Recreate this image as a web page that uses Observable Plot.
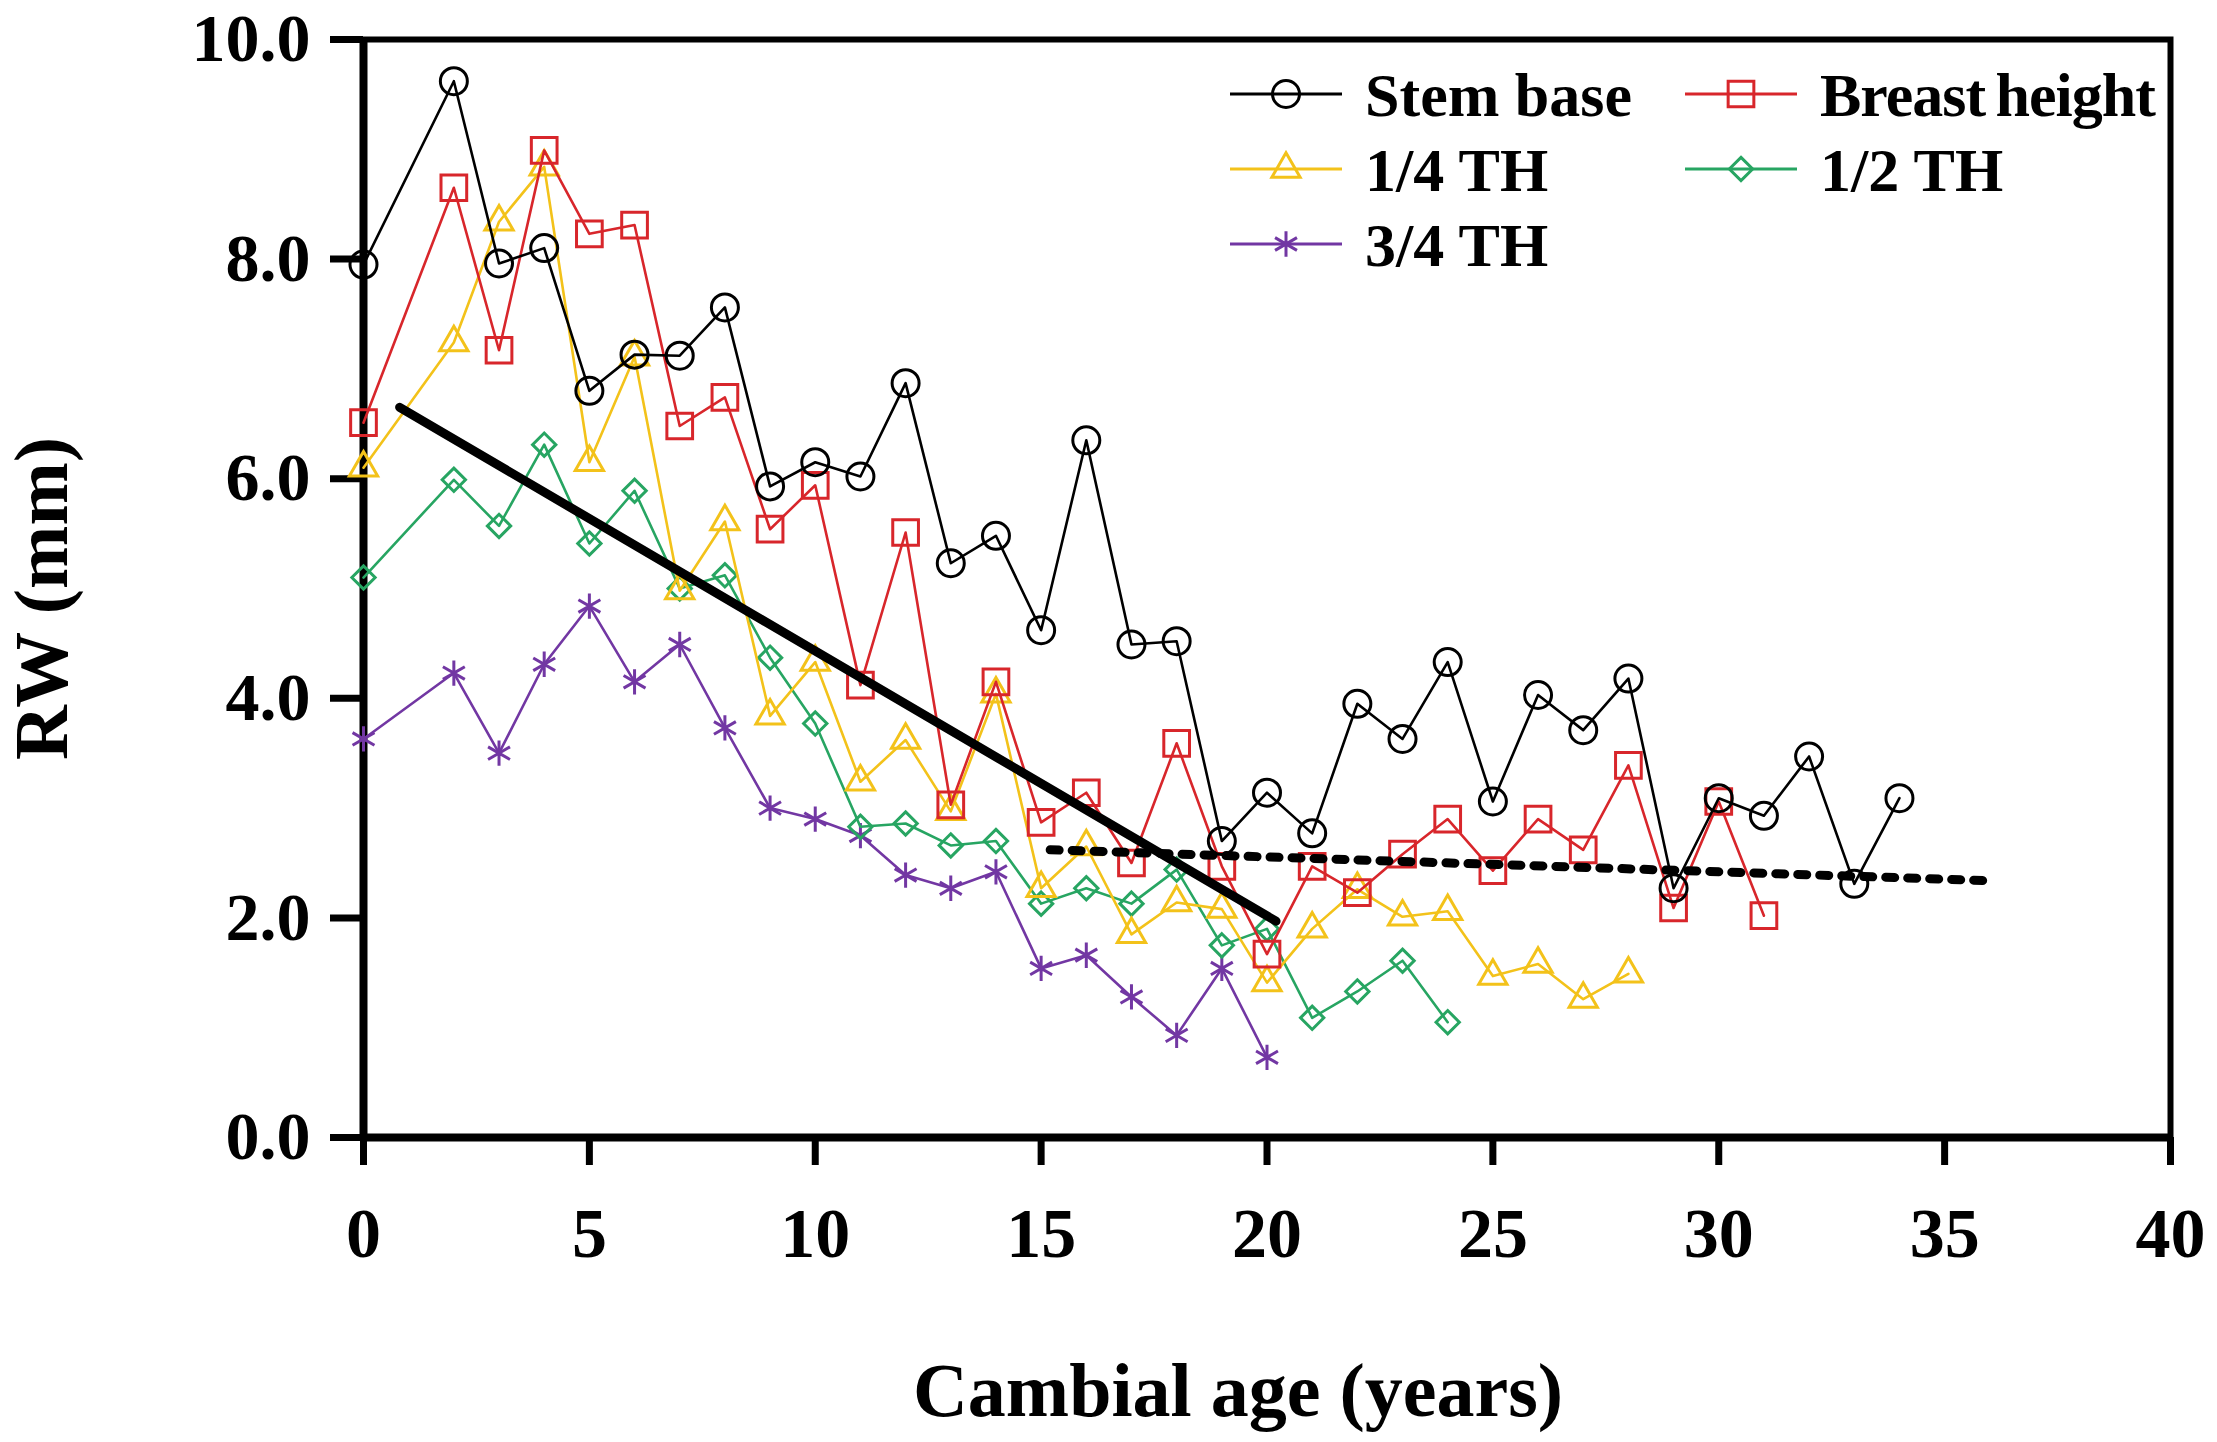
<!DOCTYPE html>
<html><head><meta charset="utf-8">
<script src="https://cdn.jsdelivr.net/npm/d3@7"></script>
<script src="https://cdn.jsdelivr.net/npm/@observablehq/plot@0.6"></script>
<style>html,body{margin:0;padding:0;background:#fff;overflow:hidden}</style>
</head><body><div id="chart"></div>
<script>
// Cambial age (years) at which ring widths were measured
const ages = [0,2,3,4,5,6,7,8,9,10,11,12,13,14,15,16,17,18,19,20,21,22,23,24,25,26,27,28,29,30,31,32,33,34];
// Ring width (mm) per sampling height
const stemBase     = [7.95,9.62,7.96,8.10,6.80,7.13,7.12,7.56,5.93,6.15,6.02,6.87,5.23,5.48,4.62,6.35,4.49,4.52,2.70,3.14,2.77,3.95,3.63,4.33,3.06,4.03,3.71,4.18,2.27,3.09,2.93,3.47,2.31,3.09];
const breastHeight = [6.51,8.65,7.17,8.99,8.23,8.31,6.48,6.74,5.54,5.94,4.12,5.51,3.03,4.15,2.87,3.14,2.50,3.59,2.47,1.67,2.47,2.23,2.58,2.90,2.43,2.90,2.62,3.39,2.09,3.06,2.02];
const quarterTH    = [6.10,7.24,8.34,8.84,6.15,7.11,4.98,5.61,3.84,4.33,3.24,3.62,2.97,4.04,2.27,2.65,1.85,2.14,2.08,1.41,1.90,2.26,2.01,2.06,1.47,1.58,1.26,1.49];
const halfTH       = [5.10,5.99,5.57,6.31,5.41,5.89,5.00,5.12,4.37,3.77,2.83,2.86,2.66,2.70,2.13,2.27,2.13,2.44,1.75,1.90,1.09,1.33,1.61,1.05];
const threeQTH     = [3.63,4.23,3.50,4.31,4.84,4.15,4.49,3.73,3.00,2.90,2.75,2.39,2.27,2.42,1.54,1.66,1.28,0.93,1.54,0.73];
// Trend lines
const trendSolidAge = [0.8, 20.2];
const trendSolidRW  = [6.65, 1.97];
const trendDotAge   = [15.2, 35.9];
const trendDotRW    = [2.62, 2.34];
// Series meta
const seriesNames   = ["Stem base","Breast height","1/4 TH","1/2 TH","3/4 TH"];
const seriesValues  = [stemBase, breastHeight, quarterTH, halfTH, threeQTH];
const seriesColors  = ["#000000","#d8262b","#f3c21a","#27a562","#7237a3"];
const seriesSymbols = ["circle","square","triangle","diamond2","asterisk"];
const seriesR       = [13.5, 14.5, 10.5, 10.5, 12];
const yTicks = [0,2,4,6,8,10];
const xTicks = [0,5,10,15,20,25,30,35,40];

const font = "'Liberation Serif','Times New Roman',serif";
const series = seriesNames.map((name, i) => ({
  name, color: seriesColors[i], symbol: seriesSymbols[i], r: seriesR[i],
  data: seriesValues[i].map((v, j) => ({age: ages[j], rw: v}))
}));
const trendSolid = trendSolidAge.map((a, i) => ({age: a, rw: trendSolidRW[i]}));
const trendDot = trendDotAge.map((a, i) => ({age: a, rw: trendDotRW[i]}));

const marks = [
  Plot.frame({strokeWidth: 6}),
  Plot.ruleX([0], {strokeWidth: 8}),
  Plot.ruleY([0], {strokeWidth: 8}),
  Plot.axisY(yTicks, {tickSize: 33, tickPadding: 20, strokeWidth: 7, tickFormat: d3.format(".1f"), fontSize: 68, fontWeight: "bold", label: null}),
  Plot.axisX(xTicks, {tickSize: 28, tickPadding: 42, strokeWidth: 7, tickFormat: d3.format("d"), fontSize: 70, fontWeight: "bold", label: null})
];
for (const s of [...series].reverse()) {
  marks.push(Plot.line(s.data, {x: "age", y: "rw", stroke: s.color, strokeWidth: 2.6}));
  marks.push(Plot.dot(s.data, {x: "age", y: "rw", stroke: s.color, symbol: () => s.symbol, r: s.r, strokeWidth: 3, fill: "none"}));
}
marks.push(Plot.line(trendSolid, {x: "age", y: "rw", stroke: "#000", strokeWidth: 9}));
marks.push(Plot.line(trendDot, {x: "age", y: "rw", stroke: "#000", strokeWidth: 9, strokeDasharray: "9 13"}));
marks.push(Plot.text(["Cambial age (years)"], {frameAnchor: "bottom", lineAnchor: "middle", textAnchor: "middle", dy: 254, dx: -29, fontSize: 76, fontWeight: "bold"}));
marks.push(Plot.text(["RW (mm)"], {frameAnchor: "left", lineAnchor: "middle", textAnchor: "middle", dx: -321, dy: 10, rotate: -90, fontSize: 76, fontWeight: "bold"}));

const chart = Plot.plot({
  width: 2217, height: 1442,
  marginLeft: 363, marginRight: 47, marginTop: 39, marginBottom: 305,
  x: {domain: [0, 40]},
  y: {domain: [0, 10]},
  symbol: {type: "identity"},
  style: {fontFamily: font, fontWeight: "bold", background: "#fff", color: "#000", overflow: "visible"},
  marks
});
document.getElementById("chart").appendChild(chart);

// Legend inside the plot frame (top right)
const svg = d3.select(chart);
const lg = svg.append("g").attr("font-family", font).attr("font-weight", "bold").attr("font-size", 62).attr("text-anchor", "start");
const legendPos = [
  {lx: 1230, ty: 94}, {lx: 1685, ty: 94},
  {lx: 1230, ty: 169}, {lx: 1685, ty: 169},
  {lx: 1230, ty: 244}
];
const symMap = {circle: d3.symbolCircle, square: d3.symbolSquare, triangle: d3.symbolTriangle, diamond2: d3.symbolDiamond2, asterisk: d3.symbolAsterisk};
series.forEach((s, i) => {
  const p = legendPos[i];
  const g = lg.append("g");
  g.append("line").attr("x1", p.lx).attr("x2", p.lx + 112).attr("y1", p.ty).attr("y2", p.ty)
    .attr("stroke", s.color).attr("stroke-width", 2.8);
  g.append("path").attr("d", d3.symbol(symMap[s.symbol], Math.PI * s.r * s.r)())
    .attr("transform", `translate(${p.lx + 56},${p.ty})`)
    .attr("fill", "none").attr("stroke", s.color).attr("stroke-width", 3);
  const t = g.append("text").attr("x", p.lx + 135).attr("y", p.ty).attr("dy", "0.35em").attr("text-anchor", "start").attr("fill", "#000").text(s.name);
  if (s.name === "Breast height") t.attr("word-spacing", "-4px").attr("letter-spacing", "-1px");
});
</script>
</body></html>
